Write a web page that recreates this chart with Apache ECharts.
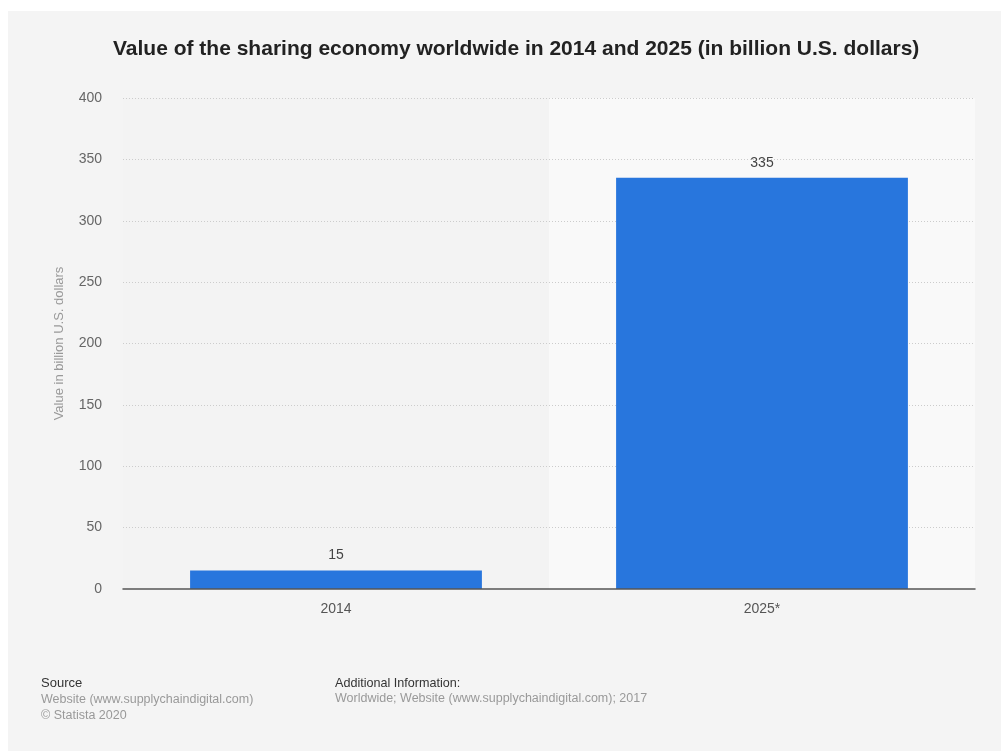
<!DOCTYPE html>
<html>
<head>
<meta charset="utf-8">
<script src="https://cdn.jsdelivr.net/npm/echarts@6/dist/echarts.min.js"></script>
<style>
  html, body { margin: 0; padding: 0; background: #ffffff; }
  #chart { width: 1001px; height: 751px; }
</style>
</head>
<body>
<div id="chart"></div>
<script>
// Chart data
const categories = ['2014', '2025*'];
const values = [15, 335];
const yTicks = { min: 0, max: 400, interval: 50 };

const titleText = 'Value of the sharing economy worldwide in 2014 and 2025 (in billion U.S. dollars)';
const yAxisName = 'Value in billion U.S. dollars';
const sourceLines = ['Website (www.supplychaindigital.com)', '\u00A9 Statista 2020'];
const additionalInfo = 'Worldwide; Website (www.supplychaindigital.com); 2017';

const font = '"Liberation Sans", Arial, Helvetica, sans-serif';

const chart = echarts.init(document.getElementById('chart'), null, { renderer: 'canvas' });

chart.setOption({
  animation: false,
  backgroundColor: '#ffffff',
  textStyle: { fontFamily: font },
  graphic: [
    {
      type: 'rect', z: -10, silent: true,
      shape: { x: 8, y: 11, width: 993, height: 740 },
      style: { fill: '#f4f4f4' }
    },
    {
      type: 'text', left: 41, top: 677,
      style: { text: 'Source', font: '13px ' + font, fill: '#333333' }
    },
    {
      type: 'text', left: 41, top: 692,
      style: { text: sourceLines.join('\n'), font: '12.5px ' + font, fill: '#999999', lineHeight: 16 }
    },
    {
      type: 'text', left: 335, top: 677,
      style: { text: 'Additional Information:', font: '12.6px ' + font, fill: '#333333' }
    },
    {
      type: 'text', left: 335, top: 692,
      style: { text: additionalInfo, font: '12.5px ' + font, fill: '#999999' }
    }
  ],
  title: {
    text: titleText,
    left: 108,
    top: 34,
    textStyle: { fontFamily: font, fontSize: 21, fontWeight: 'bold', color: '#222222' }
  },
  grid: { left: 123, right: 26, top: 98, bottom: 162, containLabel: false },
  xAxis: [
    {
      // visible category axis: baseline and year labels, drawn on top
      type: 'category',
      z: 3,
      data: categories,
      axisLine: { show: true, lineStyle: { color: '#555555', width: 1.5 } },
      axisTick: { show: false },
      axisLabel: { color: '#555555', fontSize: 14, margin: 13, fontFamily: font },
      splitArea: { show: false }
    },
    {
      // hidden twin axis that only paints the alternating column bands underneath
      type: 'category',
      z: 0,
      data: categories,
      position: 'bottom',
      axisLine: { show: false },
      axisTick: { show: false },
      axisLabel: { show: false },
      splitArea: { show: true, areaStyle: { color: ['#f3f3f3', '#f9f9f9'] } }
    }
  ],
  yAxis: {
    type: 'value',
    z: 1,
    min: yTicks.min,
    max: yTicks.max,
    interval: yTicks.interval,
    name: yAxisName,
    nameLocation: 'middle',
    nameGap: 57,
    nameTextStyle: { color: '#999999', fontSize: 13, fontFamily: font },
    axisLine: { show: false },
    axisTick: { show: false },
    axisLabel: { color: '#666666', fontSize: 14, margin: 21, fontFamily: font },
    splitLine: { showMinLine: false, lineStyle: { color: '#cccccc', type: [1, 2], width: 1 } }
  },
  series: [{
    type: 'bar',
    z: 2,
    xAxisIndex: 0,
    data: values,
    barCategoryGap: '31.5%',
    itemStyle: { color: '#2876dd' },
    label: {
      show: true,
      position: 'top',
      distance: 8,
      color: '#444444',
      fontSize: 14,
      fontFamily: font
    }
  }]
});
</script>
</body>
</html>
